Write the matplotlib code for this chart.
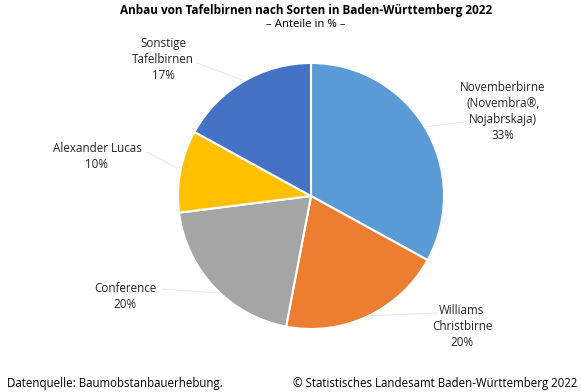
import matplotlib
matplotlib.use('Agg')
import matplotlib.pyplot as plt

plt.rcParams['font.family'] = ['Open Sans', 'DejaVu Sans']

W, H = 581, 392

sorten = ['Novemberbirne\n(Novembra®,\nNojabrskaja)', 'Williams\nChristbirne',
          'Conference', 'Alexander Lucas', 'Sonstige\nTafelbirnen']
anteile = [33, 20, 20, 10, 17]
farben = ['#5B9BD5', '#ED7D31', '#A5A5A5', '#FFC000', '#4472C4']

# label centre (x, y from top) and leader line (from pie edge to label)
label_pos = [(503, 111), (462, 326), (125, 297), (97, 156), (163, 59)]
leader = [((425, 127), (470, 121)), ((367, 316), (437, 313)),
          ((218, 293), (163, 289)), ((177, 168), (147, 152)),
          ((242, 80), (197, 63))]

fig = plt.figure(figsize=(W / 100, H / 100), dpi=100)
fig.patch.set_facecolor('white')
ax = fig.add_axes([0, 0, 1, 1])

ax.pie(anteile, colors=farben, startangle=90, counterclock=False,
       center=(311, H - 196), radius=133,
       wedgeprops=dict(edgecolor='white', linewidth=1.5))
ax.set_xlim(0, W)
ax.set_ylim(0, H)
ax.axis('off')

for name, val, (lx, ly), (p0, p1) in zip(sorten, anteile, label_pos, leader):
    ax.plot([p0[0], p1[0]], [H - p0[1], H - p1[1]], color='#E3E3E3', lw=0.6, zorder=1)
    ax.text(lx, H - ly, f'{name}\n{val}%', ha='center', va='center',
            fontsize=8.4, color='#262626', linespacing=1.3)

ax.text(306, H - 10, 'Anbau von Tafelbirnen nach Sorten in Baden-Württemberg 2022',
        ha='center', va='center', fontsize=8.5, fontweight='bold', color='black')
ax.text(306, H - 24, '– Anteile in % –', ha='center', va='center',
        fontsize=8.2, color='black')
ax.text(7, H - 383, 'Datenquelle: Baumobstanbauerhebung.', ha='left', va='center',
        fontsize=8.3, color='black')
ax.text(577, H - 383, '© Statistisches Landesamt Baden-Württemberg 2022', ha='right',
        va='center', fontsize=8.3, color='black')

fig.savefig('out.png', dpi=100, facecolor='white')
